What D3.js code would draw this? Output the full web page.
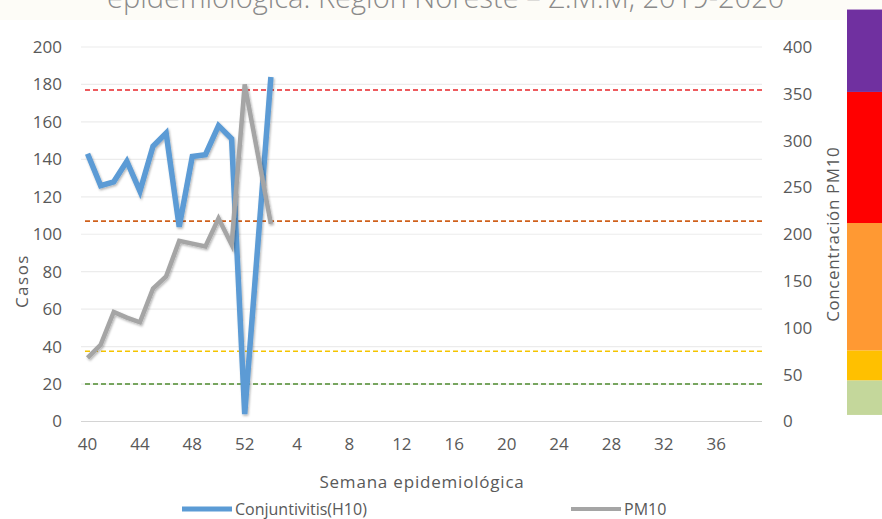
<!DOCTYPE html>
<html>
<head>
<meta charset="utf-8">
<script src="https://cdn.jsdelivr.net/npm/d3@7"></script>
<style>
  html, body { margin: 0; padding: 0; background: #fff; }
  svg { display: block; font-family: "Open Sans", sans-serif; }
</style>
</head>
<body>
<svg id="chart" width="882" height="519"></svg>
<script>
// semanas epidemiológicas 40-52 (2019) y 1-39 (2020)
const weeks = d3.range(40, 53).concat(d3.range(1, 40)).map(String);
const weekTicks = ["40", "44", "48", "52", "4", "8", "12", "16", "20", "24", "28", "32", "36"];

// casos de conjuntivitis (eje izq.), semana 1 sin dato
const caseWeeks = ["40", "41", "42", "43", "44", "45", "46", "47", "48", "49", "50", "51", "52", "2"];
const conjuntivitis = [143, 126, 128, 139, 123, 147, 154, 104, 141.5, 142.5, 158, 151, 4, 184];

// concentración PM10 (eje der.)
const pm10 = [68, 82, 117, 111, 106, 142, 155, 193, 190, 187, 217, 189, 360, 211];

const caseTicks = d3.range(0, 201, 20);
const pmTicks = d3.range(0, 401, 50);

// límites normativos PM10
const limits = [40, 75, 214, 354];
const limitColors = ["#4e8a2e", "#f5c400", "#d0611c", "#e8262a"];

// barra de colores (rangos PM10)
const bandFrom = [7, 44, 76, 212, 352];
const bandTo = [44, 76, 212, 352, 440];
const bandColors = ["#c4d79b", "#ffc000", "#ff9933", "#ff0000", "#7030a0"];

const svg = d3.select("#chart");
const width = 882;

const plot = { left: 81, right: 762, top: 47, bottom: 421.5 };

const x = d3.scaleBand().domain(weeks).range([plot.left, plot.right]);
const yCases = d3.scaleLinear().domain([0, 200]).range([plot.bottom, plot.top]);
const yPm = d3.scaleLinear().domain([0, 400]).range([plot.bottom, plot.top]);
const cx = (w) => x(w) + x.bandwidth() / 2;

// franja del título (cortada en la parte superior, como en el original)
svg.append("rect")
  .attr("x", 0).attr("y", 0)
  .attr("width", width).attr("height", 20)
  .attr("fill", "#fdfcf7");
svg.append("text")
  .attr("x", 107).attr("y", 8)
  .attr("font-size", 29)
  .attr("font-weight", 300)
  .attr("fill", "#8a8a8a")
  .text("epidemiológica. Región Noreste – Z.M.M, 2019-2020");

const defs = svg.append("defs");
defs.append("filter")
  .attr("id", "shadow")
  .attr("x", "-20%").attr("y", "-20%")
  .attr("width", "140%").attr("height", "140%")
  .append("feDropShadow")
  .attr("dx", 1).attr("dy", 1.5)
  .attr("stdDeviation", 1.2)
  .attr("flood-color", "#000")
  .attr("flood-opacity", 0.3);

// barra de colores a la derecha
svg.append("g")
  .selectAll("rect")
  .data(bandColors)
  .join("rect")
  .attr("x", 847)
  .attr("width", width - 847)
  .attr("y", (d, i) => yPm(bandTo[i]))
  .attr("height", (d, i) => yPm(bandFrom[i]) - yPm(bandTo[i]))
  .attr("fill", (d) => d);

// rejilla
svg.append("g")
  .selectAll("line")
  .data(caseTicks)
  .join("line")
  .attr("x1", plot.left).attr("x2", plot.right)
  .attr("y1", (d) => yCases(d)).attr("y2", (d) => yCases(d))
  .attr("stroke", (d) => (d === 0 ? "#d4d4d4" : "#ececec"))
  .attr("stroke-width", 1.2);

// líneas de límite
svg.append("g")
  .selectAll("line")
  .data(limits)
  .join("line")
  .attr("x1", plot.left + 4).attr("x2", plot.right)
  .attr("y1", (d) => yPm(d)).attr("y2", (d) => yPm(d))
  .attr("stroke", (d, i) => limitColors[i])
  .attr("stroke-width", 1.6)
  .attr("stroke-dasharray", "5,3");

// ejes
const axisLeft = svg.append("g")
  .attr("transform", `translate(${plot.left - 19},0)`)
  .call(d3.axisLeft(yCases).tickValues(caseTicks).tickSize(0).tickPadding(0));
const axisRight = svg.append("g")
  .attr("transform", `translate(${plot.right + 21},0)`)
  .call(d3.axisRight(yPm).tickValues(pmTicks).tickSize(0).tickPadding(0));
const axisBottom = svg.append("g")
  .attr("transform", `translate(0,${plot.bottom + 16})`)
  .call(d3.axisBottom(x).tickValues(weekTicks).tickSize(0).tickPadding(0));

[axisLeft, axisRight, axisBottom].forEach((g) => {
  g.select(".domain").remove();
  g.selectAll("text")
    .attr("font-family", "Open Sans, sans-serif")
    .attr("font-size", 17)
    .attr("fill", "#595959");
});

// títulos de ejes
svg.append("text")
  .attr("transform", `translate(28,${yCases(75)}) rotate(-90)`)
  .attr("text-anchor", "middle")
  .attr("font-size", 17)
  .attr("letter-spacing", 1.5)
  .attr("fill", "#595959")
  .text("Casos");
svg.append("text")
  .attr("transform", `translate(839,${yPm(200)}) rotate(-90)`)
  .attr("text-anchor", "middle")
  .attr("font-size", 17)
  .attr("letter-spacing", 0.6)
  .attr("fill", "#595959")
  .text("Concentración PM10");
svg.append("text")
  .attr("x", 422).attr("y", 488)
  .attr("text-anchor", "middle")
  .attr("font-size", 17)
  .attr("letter-spacing", 0.8)
  .attr("fill", "#595959")
  .text("Semana epidemiológica");

// series
const caseRows = caseWeeks.map((w, i) => ({ week: w, value: conjuntivitis[i] }));
const pmRows = caseWeeks.map((w, i) => ({ week: w, value: pm10[i] }));

svg.append("path")
  .datum(caseRows)
  .attr("fill", "none")
  .attr("stroke", "#5b9bd5")
  .attr("stroke-width", 5.5)
  .attr("stroke-linejoin", "miter")
  .attr("filter", "url(#shadow)")
  .attr("d", d3.line().x((d) => cx(d.week)).y((d) => yCases(d.value)));

svg.append("path")
  .datum(pmRows)
  .attr("fill", "none")
  .attr("stroke", "#a5a5a5")
  .attr("stroke-width", 4.5)
  .attr("stroke-linejoin", "miter")
  .attr("filter", "url(#shadow)")
  .attr("d", d3.line().x((d) => cx(d.week)).y((d) => yPm(d.value)));

// leyenda
const legend = [
  { label: "Conjuntivitis(H10)", color: "#5b9bd5", width: 5, x: 182 },
  { label: "PM10", color: "#a5a5a5", width: 4, x: 571 }
];
const legendG = svg.append("g").selectAll("g")
  .data(legend)
  .join("g")
  .attr("transform", (d) => `translate(${d.x},509)`);
legendG.append("line")
  .attr("x1", 0).attr("x2", 50)
  .attr("stroke", (d) => d.color)
  .attr("stroke-width", (d) => d.width);
legendG.append("text")
  .attr("x", 53).attr("dy", "0.35em")
  .attr("font-size", 16)
  .attr("fill", "#595959")
  .text((d) => d.label);
</script>
</body>
</html>
